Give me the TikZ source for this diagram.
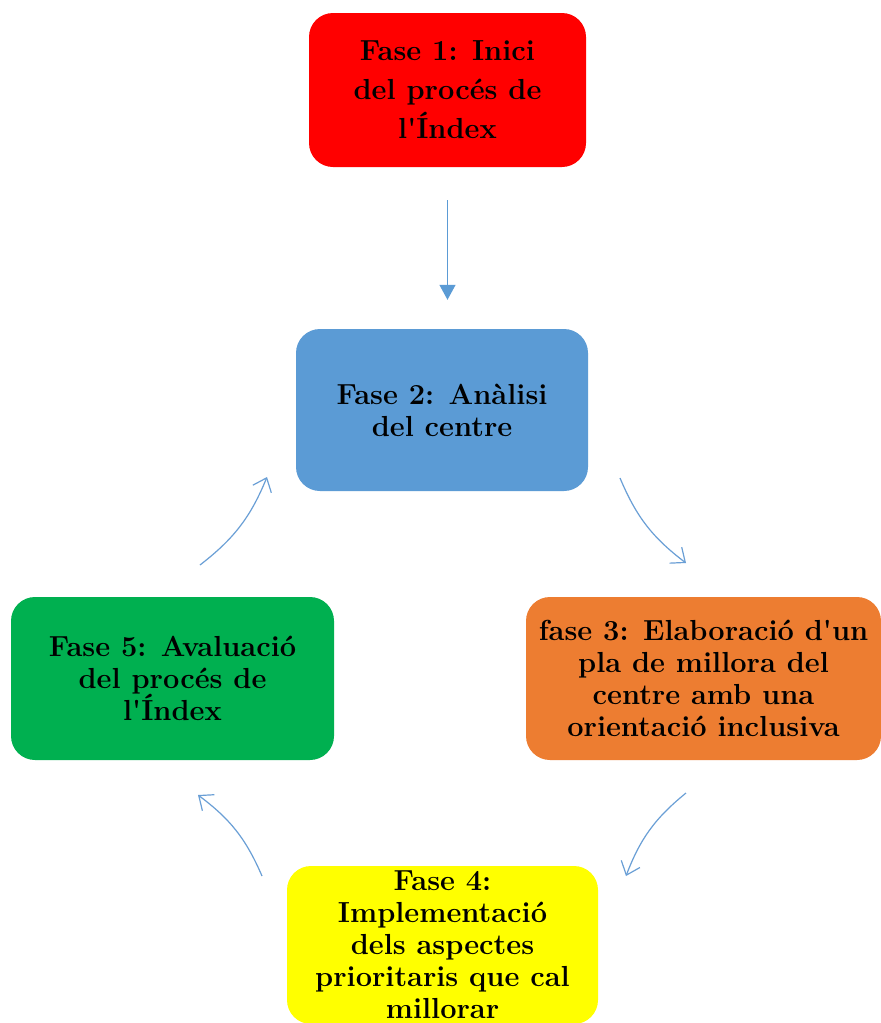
\documentclass[tikz,border=0pt]{standalone}
\usetikzlibrary{arrows.meta}
\definecolor{faseroig}{HTML}{FF0000}
\definecolor{faseblau}{HTML}{5B9BD5}
\definecolor{fasetaronja}{HTML}{ED7D31}
\definecolor{faseverd}{HTML}{00B050}
\definecolor{fasegroc}{HTML}{FFFF00}
\definecolor{fletxa}{HTML}{6A9FD6}
\tikzset{
  fase/.style={rounded corners=24pt, align=center, inner sep=0pt, text=black,
    font=\bfseries\fontsize{29}{32}\selectfont},
  cicle/.style={draw=fletxa, line width=1.2pt, -{Straight Barb[length=12pt,width=20pt]}}
}
\begin{document}
\begin{tikzpicture}[x=1pt,y=-1pt]
  \useasboundingbox[fill=white] (0,0) rectangle (881,1023);
  \node[fase, fill=faseroig, minimum width=277, minimum height=154,
    font=\bfseries\fontsize{29}{39}\selectfont] (f1) at (447.5,90)
    {Fase 1: Inici\\del procés de\\l\textquotesingle Índex};
  \node[fase, fill=faseblau, minimum width=292, minimum height=162] (f2) at (442,410)
    {Fase 2: Anàlisi\\del centre};
  \node[fase, fill=fasetaronja, minimum width=355, minimum height=163] (f3) at (703.5,678.5)
    {fase 3: Elaboració d\textquotesingle un\\pla de millora del\\centre amb una\\orientació inclusiva};
  \node[fase, fill=fasegroc, minimum width=311, minimum height=158] (f4) at (442.5,945)
    {Fase 4:\\Implementació\\dels aspectes\\prioritaris que cal\\millorar};
  \node[fase, fill=faseverd, minimum width=323, minimum height=163] (f5) at (172.5,678.5)
    {Fase 5: Avaluació\\del procés de\\l\textquotesingle Índex};
  % fletxes
  \draw[draw=faseblau, line width=1.2pt, -{Triangle[length=15pt,width=16pt]},
    shorten <=33pt, shorten >=29pt] (f1.south) -- (f1.south |- f2.north);
  \coordinate (a2) at (620,478);
  \coordinate (a3) at (686,563);
  \coordinate (b3) at (686,793);
  \coordinate (b4) at (626,876);
  \coordinate (c4) at (262,876);
  \coordinate (c5) at (198,795);
  \coordinate (d5) at (200,565);
  \coordinate (d2) at (267,477);
  \draw[cicle] (a2) to[bend right=15] (a3);
  \draw[cicle] (b3) to[bend right=15] (b4);
  \draw[cicle] (c4) to[bend right=15] (c5);
  \draw[cicle] (d5) to[bend right=15] (d2);
\end{tikzpicture}
\end{document}
